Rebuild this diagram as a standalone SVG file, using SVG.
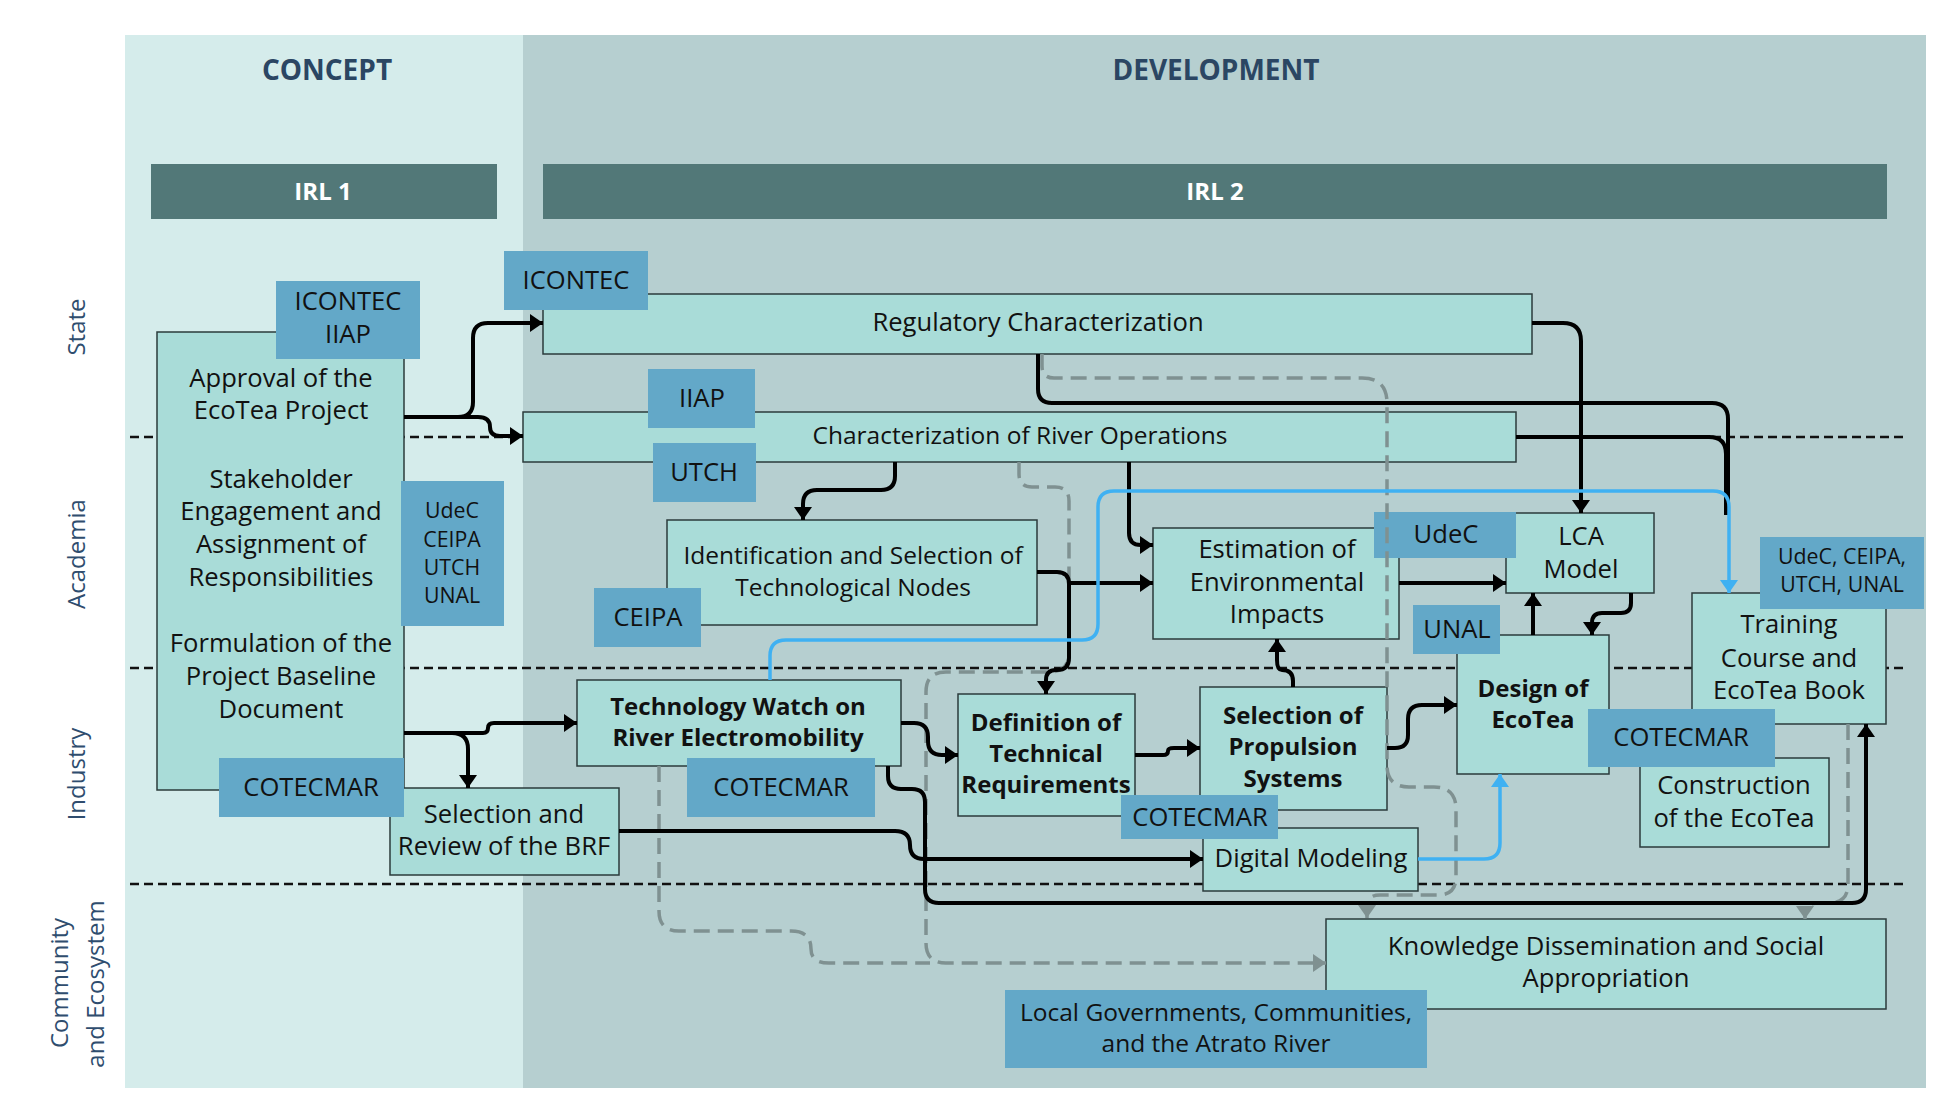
<svg xmlns="http://www.w3.org/2000/svg" width="1960" height="1120" viewBox="0 0 1960 1120">
<defs>
<style>
.bgc{fill:#d5eceb}
.bgd{fill:#b6cfd0}
.irl{fill:#527878}
.irlt{font-family:"Open Sans",sans-serif;font-weight:700;font-size:24px;fill:#ffffff;text-anchor:middle}
.hdr{font-family:"Open Sans",sans-serif;font-weight:700;font-size:28px;fill:#2b4663;text-anchor:middle}
.lane{font-family:"Open Sans",sans-serif;font-size:24px;fill:#2f4d6e;text-anchor:middle;dominant-baseline:central}
.sep{stroke:#111;stroke-width:2.5;stroke-dasharray:9 5;fill:none}
.box{fill:#a9dcd8;stroke:#2b3b3b;stroke-width:1.5}
.tag{fill:#63a8c8}
.t{font-family:"Open Sans",sans-serif;font-size:25.6px;fill:#111;text-anchor:middle}
.tn{font-size:24.5px}
.tb{font-family:"Open Sans",sans-serif;font-size:24px;font-weight:700;fill:#111;text-anchor:middle}
.ts{font-family:"Open Sans",sans-serif;font-size:21.3px;fill:#111;text-anchor:middle}
.k{fill:none;stroke:#000;stroke-width:4}
.ka{fill:none;stroke:#000;stroke-width:4;marker-end:url(#ak)}
.b{fill:none;stroke:#3fb1f2;stroke-width:3.5;marker-end:url(#ab)}
.g{fill:none;stroke:#7f9191;stroke-width:3.5;stroke-dasharray:16 8}
.ga{fill:none;stroke:#7f9191;stroke-width:3.5;stroke-dasharray:16 8;marker-end:url(#ag)}
</style>
<marker id="ak" markerUnits="userSpaceOnUse" markerWidth="14" markerHeight="18" refX="13" refY="9" orient="auto"><path d="M0,0 L13,9 L0,18 z" fill="#000"/></marker>
<marker id="ab" markerUnits="userSpaceOnUse" markerWidth="14" markerHeight="18" refX="13" refY="9" orient="auto"><path d="M0,0 L13,9 L0,18 z" fill="#3fb1f2"/></marker>
<marker id="ag" markerUnits="userSpaceOnUse" markerWidth="14" markerHeight="18" refX="13" refY="9" orient="auto"><path d="M0,0 L13,9 L0,18 z" fill="#7f9191"/></marker>
</defs>
<rect width="1960" height="1120" fill="#ffffff"/>
<g id="background">
<rect class="bgc" x="125" y="35" width="398" height="1053"/>
<rect class="bgd" x="523" y="35" width="1403" height="1053"/>
<text class="hdr" x="327" y="80">CONCEPT</text>
<text class="hdr" x="1216" y="80">DEVELOPMENT</text>
<rect class="irl" x="151" y="164" width="346" height="55"/>
<text class="irlt" x="323" y="200">IRL 1</text>
<rect class="irl" x="543" y="164" width="1344" height="55"/>
<text class="irlt" x="1215" y="200">IRL 2</text>
<line class="sep" x1="130" y1="437" x2="1904" y2="437"/>
<line class="sep" x1="130" y1="668" x2="1904" y2="668"/>
<line class="sep" x1="130" y1="884" x2="1904" y2="884"/>
<text class="lane" transform="translate(75,327) rotate(-90)">State</text>
<text class="lane" transform="translate(75,554) rotate(-90)">Academia</text>
<text class="lane" transform="translate(75,774) rotate(-90)">Industry</text>
<text class="lane" transform="translate(58,983) rotate(-90)">Community</text>
<text class="lane" transform="translate(94,984) rotate(-90)">and Ecosystem</text>
</g>
<g id="n-approval">
<rect class="box" x="157" y="332" width="247" height="458"/>
<text class="t" x="281" y="387">Approval of the</text>
<text class="t" x="281" y="419">EcoTea Project</text>
<text class="t" x="281" y="488">Stakeholder</text>
<text class="t" x="281" y="520">Engagement and</text>
<text class="t" x="281" y="553">Assignment of</text>
<text class="t" x="281" y="586">Responsibilities</text>
<text class="t" x="281" y="652">Formulation of the</text>
<text class="t" x="281" y="685">Project Baseline</text>
<text class="t" x="281" y="718">Document</text>
</g>
<g id="n-brf">
<rect class="box" x="390" y="788" width="229" height="87"/>
<text class="t" x="504" y="823">Selection and</text>
<text class="t" x="504" y="855">Review of the BRF</text>
</g>
<g id="n-regulatory">
<rect class="box" x="543" y="294" width="989" height="60"/>
<text class="t" x="1038" y="331">Regulatory Characterization</text>
</g>
<g id="n-river">
<rect class="box" x="523" y="412" width="993" height="50"/>
<text class="t tn" x="1020" y="444">Characterization of River Operations</text>
</g>
<g id="n-identification">
<rect class="box" x="667" y="520" width="370" height="105"/>
<text class="t tn" x="853" y="564">Identification and Selection of</text>
<text class="t tn" x="853" y="596">Technological Nodes</text>
</g>
<g id="n-estimation">
<rect class="box" x="1153" y="528" width="246" height="111"/>
<text class="t" x="1277" y="558">Estimation of</text>
<text class="t" x="1277" y="591">Environmental</text>
<text class="t" x="1277" y="623">Impacts</text>
</g>
<g id="n-lca">
<rect class="box" x="1506" y="513" width="148" height="80"/>
<text class="t" x="1581" y="545">LCA</text>
<text class="t" x="1581" y="578">Model</text>
</g>
<g id="n-techwatch">
<rect class="box" x="577" y="680" width="324" height="86"/>
<text class="tb" x="738" y="715">Technology Watch on</text>
<text class="tb" x="738" y="746">River Electromobility</text>
</g>
<g id="n-definition">
<rect class="box" x="958" y="694" width="177" height="122"/>
<text class="tb" x="1046" y="731">Definition of</text>
<text class="tb" x="1046" y="762">Technical</text>
<text class="tb" x="1046" y="793">Requirements</text>
</g>
<g id="n-propulsion">
<rect class="box" x="1200" y="687" width="187" height="123"/>
<text class="tb" x="1293" y="724">Selection of</text>
<text class="tb" x="1293" y="755">Propulsion</text>
<text class="tb" x="1293" y="787">Systems</text>
</g>
<g id="n-digital">
<rect class="box" x="1203" y="828" width="215" height="63"/>
<text class="t" x="1311" y="867">Digital Modeling</text>
</g>
<g id="n-design">
<rect class="box" x="1457" y="635" width="152" height="139"/>
<text class="tb" x="1533" y="697">Design of</text>
<text class="tb" x="1533" y="728">EcoTea</text>
</g>
<g id="n-training">
<rect class="box" x="1692" y="593" width="194" height="131"/>
<text class="t" x="1789" y="633">Training</text>
<text class="t" x="1789" y="667">Course and</text>
<text class="t" x="1789" y="699">EcoTea Book</text>
</g>
<g id="n-construction">
<rect class="box" x="1640" y="758" width="189" height="89"/>
<text class="t" x="1734" y="794">Construction</text>
<text class="t" x="1734" y="827">of the EcoTea</text>
</g>
<g id="n-knowledge">
<rect class="box" x="1326" y="919" width="560" height="90"/>
<text class="t" x="1606" y="955">Knowledge Dissemination and Social</text>
<text class="t" x="1606" y="987">Appropriation</text>
</g>
<g id="tags">
<g id="tag-icontec-iiap"><rect class="tag" x="276" y="281" width="144" height="78"/><text class="t" x="348" y="310">ICONTEC</text><text class="t" x="348" y="343">IIAP</text></g>
<g id="tag-academia"><rect class="tag" x="401" y="481" width="103" height="145"/><text class="ts" x="452" y="518">UdeC</text><text class="ts" x="452" y="547">CEIPA</text><text class="ts" x="452" y="575">UTCH</text><text class="ts" x="452" y="603">UNAL</text></g>
<g id="tag-cotecmar1"><rect class="tag" x="219" y="758" width="185" height="59"/><text class="t" x="311" y="796">COTECMAR</text></g>
<g id="tag-icontec"><rect class="tag" x="504" y="251" width="144" height="59"/><text class="t" x="576" y="289">ICONTEC</text></g>
<g id="tag-iiap"><rect class="tag" x="648" y="369" width="107" height="59"/><text class="t" x="702" y="407">IIAP</text></g>
<g id="tag-utch"><rect class="tag" x="653" y="443" width="103" height="59"/><text class="t" x="704" y="481">UTCH</text></g>
<g id="tag-ceipa"><rect class="tag" x="594" y="588" width="107" height="59"/><text class="t" x="648" y="626">CEIPA</text></g>
<g id="tag-udec"><rect class="tag" x="1374" y="512" width="142" height="46"/><text class="t" x="1446" y="543">UdeC</text></g>
<g id="tag-unal"><rect class="tag" x="1413" y="605" width="87" height="49"/><text class="t" x="1457" y="638">UNAL</text></g>
<g id="tag-multi"><rect class="tag" x="1760" y="537" width="164" height="72"/><text class="ts" x="1842" y="564">UdeC, CEIPA,</text><text class="ts" x="1842" y="592">UTCH, UNAL</text></g>
<g id="tag-cotecmar2"><rect class="tag" x="687" y="758" width="188" height="59"/><text class="t" x="781" y="796">COTECMAR</text></g>
<g id="tag-cotecmar3"><rect class="tag" x="1121" y="795" width="157" height="44"/><text class="t" x="1200" y="826">COTECMAR</text></g>
<g id="tag-cotecmar4"><rect class="tag" x="1588" y="709" width="187" height="58"/><text class="t" x="1681" y="746">COTECMAR</text></g>
<g id="tag-local"><rect class="tag" x="1005" y="990" width="422" height="78"/><text class="t tn" x="1216" y="1021">Local Governments, Communities,</text><text class="t tn" x="1216" y="1052">and the Atrato River</text></g>
</g>
<g id="connectors">
<path class="ga" d="M1042,354 V366 Q1042,378 1054,378 H1362 Q1387,378 1387,403 V765 Q1387,787 1409,787 H1434 Q1456,787 1456,809 V877 Q1456,895 1438,895 H1380 Q1367,895 1367,906 V918"/>
<path class="ga" d="M1019,462 V474 Q1019,487 1032,487 H1055 Q1069,487 1069,501 V652 Q1069,672 1049,672 H946 Q926,672 926,692 V943 Q926,963 946,963 H1326"/>
<path class="g" d="M659,766 V911 Q659,931 679,931 H791 Q811,931 811,949 Q811,963 829,963 H930"/>
<path class="ga" d="M1848,724 V884 Q1848,903 1829,903 H1819 Q1805,903 1805,912 V919"/>
<path class="ka" d="M404,417 H458 Q473,417 473,402 V338 Q473,323 488,323 H543"/>
<path class="ka" d="M404,417 H478 Q490,417 490,427 Q490,436 500,436 H523"/>
<path class="k" d="M1038,354 V389 Q1038,403 1052,403 H1712 Q1728,403 1728,419 V515"/>
<path class="k" d="M1516,437 H1709 Q1726,437 1726,454 V515"/>
<path class="ka" d="M1532,323 H1563 Q1581,323 1581,341 V513"/>
<path class="ka" d="M895,462 V476 Q895,490 881,490 H817 Q803,490 803,504 V520"/>
<path class="ka" d="M1129,462 V533 Q1129,545 1141,545 H1153"/>
<path class="ka" d="M1037,572 H1057 Q1069,572 1069,584 V658 Q1069,670 1057,670 H1056 Q1046,670 1046,680 V694"/>
<path class="ka" d="M1069,583 H1153"/>
<path class="ka" d="M1399,583 H1506"/>
<path class="ka" d="M1533,635 V593"/>
<path class="ka" d="M1631,593 V603 Q1631,613 1621,613 H1602 Q1592,613 1592,623 V635"/>
<path class="ka" d="M1293,687 V681 Q1293,670 1282,670 Q1277,670 1277,660 V639"/>
<path class="ka" d="M1387,748 H1395 Q1408,748 1408,735 V719 Q1408,705 1422,705 H1457"/>
<path class="ka" d="M1135,755 H1163 Q1168,755 1168,751 Q1168,748 1174,748 H1200"/>
<path class="ka" d="M901,723 H914 Q928,723 928,737 V741 Q928,755 942,755 H958"/>
<path class="ka" d="M888,766 V776 Q888,789 901,789 H912 Q925,789 925,802 V889 Q925,903 939,903 H1852 Q1866,903 1866,889 V724"/>
<path class="ka" d="M619,831 H895 Q910,831 910,845 Q910,859 924,859 H1203"/>
<path class="ka" d="M404,733 H483 Q488,733 488,728 Q488,723 494,723 H577"/>
<path class="ka" d="M404,733 H452 Q468,733 468,749 V788"/>
<path class="b" d="M770,680 V656 Q770,640 786,640 H1082 Q1098,640 1098,624 V507 Q1098,491 1114,491 H1713 Q1729,491 1729,507 V593"/>
<path class="b" d="M1418,859 H1484 Q1500,859 1500,843 V774"/>
</g>
</svg>
